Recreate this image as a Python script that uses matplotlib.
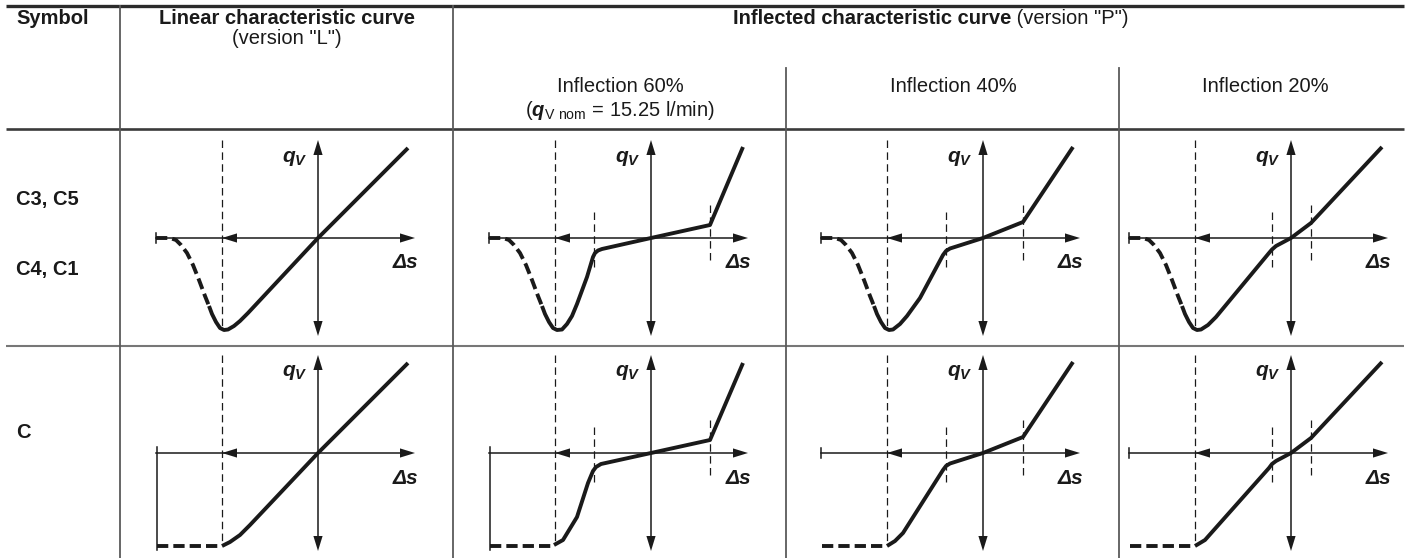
import matplotlib.pyplot as plt
from matplotlib.patches import Polygon

plt.rcParams['font.family'] = ['Liberation Sans', 'DejaVu Sans']
plt.rcParams['mathtext.fontset'] = 'custom'
plt.rcParams['mathtext.rm'] = 'Liberation Sans'
plt.rcParams['mathtext.bf'] = 'Liberation Sans:bold:italic'

# --- table text ---
row1_symbols = ['C3, C5', 'C4, C1']
row2_symbols = ['C']
sub_titles = ['Inflection 60%', 'Inflection 40%', 'Inflection 20%']

# --- curve data (local units, origin = crossing of the axes) ---
# row 1: dashed dip on the left, shared by all columns
dip_dash_x = [-162, -148, -142, -137, -131, -125, -119, -113, -109]
dip_dash_y = [0, 0, -2, -7, -15, -27, -42, -58, -68]
dip_solid_x = [-109, -106, -102, -98, -94]
dip_solid_y = [-68, -76, -84, -90, -92]

r1_lin_x = [-90, -84, -78, -70, 0, 90]
r1_lin_y = [-91.5, -88, -83, -75, 0, 90]
r1_60_x = [-89, -84, -79, -74, -64, -58, -56, -53, -49, 0, 59, 92]
r1_60_y = [-91.5, -86, -78, -66, -39, -19, -15, -12.5, -11, 0, 13, 91]
r1_40_x = [-90, -83, -76, -63, -40, -37, -33, 0, 40, 90]
r1_40_y = [-91.5, -86, -78, -60, -17, -13, -10.5, 0, 16, 91]
r1_20_x = [-90, -83, -75, -22, -19, -15, 0, 20, 91]
r1_20_y = [-91.5, -87, -79, -15, -11.5, -8, 0, 15, 91]

# row 2: dashed flat bottom on the left, shared by all columns
flat_dash_x = [-161, -96]
flat_dash_y = [-93, -93]

r2_lin_x = [-96, -88, -78, -68, 0, 90]
r2_lin_y = [-93, -89, -82, -72, 0, 90]
r2_60_x = [-97, -88, -74, -63, -58, -55, -50, 0, 59, 92]
r2_60_y = [-92, -87, -64, -30, -18, -14, -11, 0, 13, 90]
r2_40_x = [-96, -88, -80, -40, -37, -33, 0, 40, 90]
r2_40_y = [-93, -88, -80, -17, -13, -10.5, 0, 16, 91]
r2_20_x = [-96, -86, -22, -19, -15, 0, 20, 91]
r2_20_y = [-93, -87, -15, -11, -8, 0, 15, 91]

# inflection points (short dashed markers)
knees_60 = [-57, 59]
knees_40 = [-37, 40]
knees_20 = [-19, 20]

W, H = 1410, 558
INK = '#1a1a1a'

fig = plt.figure(figsize=(W / 100, H / 100), dpi=100)
bg = fig.add_axes([0, 0, 1, 1])
bg.set_xlim(0, W)
bg.set_ylim(H, 0)
bg.axis('off')

# table rules
bg.plot([6, 1404], [6, 6], color='#2b2b2b', lw=2.4, solid_capstyle='butt')
bg.plot([6, 1404], [129, 129], color='#3a3a3a', lw=1.9, solid_capstyle='butt')
bg.plot([6, 1404], [346, 346], color='#777777', lw=1.5, solid_capstyle='butt')
for x in (120, 453):
    bg.plot([x, x], [6, H], color='#5a5a5a', lw=1.3)
for x in (786, 1119):
    bg.plot([x, x], [68, H], color='#5a5a5a', lw=1.3)

fs = 14.5
bg.text(16, 18, 'Symbol', fontsize=fs, fontweight='bold', color=INK, va='center')
bg.text(287, 18, 'Linear characteristic curve', fontsize=fs, fontweight='bold',
        color=INK, ha='center', va='center')
bg.text(287, 39, '(version "L")', fontsize=fs, color=INK, ha='center', va='center')

# "Inflected characteristic curve (version "P")" - bold + regular, centred together
t1 = bg.text(0, 18, 'Inflected characteristic curve', fontsize=fs, fontweight='bold',
             color=INK, va='center')
t2 = bg.text(0, 18, ' (version "P")', fontsize=fs, color=INK, va='center')
r = fig.canvas.get_renderer()
w1 = t1.get_window_extent(r).width
w2 = t2.get_window_extent(r).width
x0 = 931 - (w1 + w2) / 2
t1.set_x(x0)
t2.set_x(x0 + w1)

for cx, title in zip([620, 953, 1265], sub_titles):
    bg.text(cx, 87, title, fontsize=fs, color=INK, ha='center', va='center')
bg.text(620, 110, r'($\mathbf{q}_{\mathrm{V\ nom}}$ = 15.25 l/min)', fontsize=fs,
        color=INK, ha='center', va='center')

for y, s in zip([200, 270], row1_symbols):
    bg.text(16, y, s, fontsize=fs, fontweight='bold', color=INK, va='center')
bg.text(16, 432, row2_symbols[0], fontsize=fs, fontweight='bold', color=INK, va='center')


def head(ax, tip, d):
    hl, hw = 15, 4.6
    bx, by = tip[0] - hl * d[0], tip[1] - hl * d[1]
    px, py = -d[1], d[0]
    ax.add_patch(Polygon([tip, (bx + hw * px, by + hw * py), (bx - hw * px, by - hw * py)],
                         closed=True, color=INK, lw=0, clip_on=False))


def cell(ox, oy, dash_x, dash_y, solid_x, solid_y, knees, left_bar):
    ax = fig.add_axes([(ox - 175) / W, (H - oy - 110) / H, 290 / W, 220 / H])
    ax.set_xlim(-175, 115)
    ax.set_ylim(-110, 110)
    ax.axis('off')
    ax.patch.set_visible(False)
    # axes
    ax.plot([-162, 90], [0, 0], color=INK, lw=1.1, clip_on=False)
    ax.plot([0, 0], [-90, 90], color=INK, lw=1.1, clip_on=False)
    head(ax, (97, 0), (1, 0))
    head(ax, (-96, 0), (-1, 0))
    head(ax, (0, 98), (0, 1))
    head(ax, (0, -98), (0, -1))
    if left_bar:
        ax.plot([-161, -161], [6, -97], color=INK, lw=1.1, clip_on=False)
    else:
        ax.plot([-162, -162], [-5, 5], color=INK, lw=1.1, clip_on=False)
    # long dashed guide
    ax.plot([-96, -96], [98, -92], color=INK, lw=0.9, dashes=(6, 3.5), clip_on=False)
    for i, k in enumerate(knees):
        top, bot = (26, -29) if i == 0 else (33, -22)
        ax.plot([k, k], [top, bot], color=INK, lw=0.9, dashes=(6, 3.5), clip_on=False)
    # characteristic curve
    ax.plot(dash_x, dash_y, color=INK, lw=2.8, dashes=(2.9, 1.3), clip_on=False)
    ax.plot(solid_x, solid_y, color=INK, lw=2.8, solid_joinstyle='round',
            solid_capstyle='butt', clip_on=False)
    ax.text(-10, 80, r'$\mathbf{q}_{\mathbf{V}}$', fontsize=15, color=INK,
            ha='right', va='center')
    ax.text(87, -25, 'Δs', fontsize=15, fontweight='bold', fontstyle='italic',
            color=INK, ha='center', va='center')


col_x = [318, 651, 983, 1291]
row_y = [238, 453]

row1 = [(r1_lin_x, r1_lin_y, []), (r1_60_x, r1_60_y, knees_60),
        (r1_40_x, r1_40_y, knees_40), (r1_20_x, r1_20_y, knees_20)]
for ox, (sx, sy, kn) in zip(col_x, row1):
    cell(ox, row_y[0], dip_dash_x, dip_dash_y, dip_solid_x + sx, dip_solid_y + sy, kn, False)

row2 = [(r2_lin_x, r2_lin_y, [], True), (r2_60_x, r2_60_y, knees_60, True),
        (r2_40_x, r2_40_y, knees_40, False), (r2_20_x, r2_20_y, knees_20, False)]
for ox, (sx, sy, kn, bar) in zip(col_x, row2):
    cell(ox, row_y[1], flat_dash_x, flat_dash_y, sx, sy, kn, bar)

fig.savefig('out.png', dpi=100)
